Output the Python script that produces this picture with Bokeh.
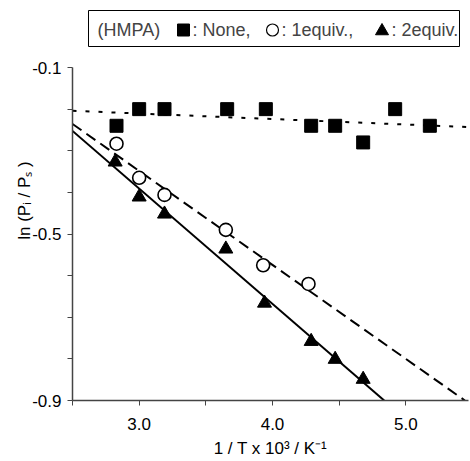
import numpy as np
from bokeh.plotting import figure
from bokeh.models import Label, FixedTicker, PrintfTickFormatter, Range1d, BoxAnnotation
from bokeh.embed import file_html
from bokeh.resources import INLINE

# --- data ---
x_none = [2.83, 3.00, 3.19, 3.66, 3.95, 4.29, 4.47, 4.68, 4.92, 5.18]
y_none = [-0.24, -0.20, -0.20, -0.20, -0.20, -0.24, -0.24, -0.28, -0.20, -0.24]

x_1eq = [2.83, 3.00, 3.19, 3.65, 3.93, 4.27]
y_1eq = [-0.283, -0.365, -0.406, -0.490, -0.575, -0.620]

x_2eq = [2.82, 3.00, 3.19, 3.65, 3.94, 4.29, 4.47, 4.68]
y_2eq = [-0.327, -0.411, -0.452, -0.536, -0.666, -0.758, -0.801, -0.849]

x_ticks = [3.0, 4.0, 5.0]
x_minor = [2.5, 3.5, 4.5]
y_ticks = [-0.1, -0.5, -0.9]
y_minor = [-0.2, -0.3, -0.4, -0.6, -0.7, -0.8]

legend_title = "(HMPA)"
legend_labels = [": None,", ": 1equiv.,", ": 2equiv."]

FONT = "Liberation Sans"
X0, X1 = 2.5, 5.47
Y0, Y1 = -0.9, 0.061
W, H = 470, 461
BL, BR, BT, BB = 72, 2, 0, 61

p = figure(width=W, height=H, output_backend="svg", toolbar_location=None,
           x_range=Range1d(X0, X1), y_range=Range1d(Y0, Y1),
           min_border_left=BL, min_border_right=BR, min_border_top=BT, min_border_bottom=BB)
p.outline_line_color = None
p.xgrid.visible = False
p.ygrid.visible = False
p.background_fill_color = "white"

# helpers: canvas pixel -> data coordinate (for legend layout only)
fw, fh = W - BL - BR, H - BT - BB
def px(x):
    return X0 + (x - BL) / fw * (X1 - X0)
def py(y):
    return Y1 - (y - BT) / fh * (Y1 - Y0)

# fit lines (least squares through each series)
xl = np.array([X0, X1])
for xs, ys, dash in [(x_none, y_none, "4 9"), (x_1eq, y_1eq, "11 6"), (x_2eq, y_2eq, "solid")]:
    k, b = np.polyfit(xs, ys, 1)
    yl = k * xl + b
    if yl[1] < Y0:
        xl2 = np.array([X0, (Y0 - b) / k])
        yl = k * xl2 + b
    else:
        xl2 = xl
    p.line(xl2, yl, line_color="black", line_width=2, line_dash=dash)

p.scatter(x_none, y_none, marker="square", size=13, fill_color="black", line_color="black")
p.scatter(x_1eq, y_1eq, marker="circle", size=13, fill_color="white", line_color="black", line_width=1.6)
p.scatter(x_2eq, y_2eq, marker="triangle", size=14, fill_color="black", line_color="black")

for ax in (p.xaxis[0], p.yaxis[0]):
    ax.axis_line_color = "#444444"
    ax.axis_line_width = 1.5
    ax.major_tick_line_color = "#444444"
    ax.major_tick_line_width = 1
    ax.minor_tick_line_color = None
    ax.major_tick_in = 0
    ax.major_tick_out = 5
    ax.major_label_text_font = FONT
    ax.major_label_text_font_size = "17px"
    ax.major_label_text_color = "black"
    ax.axis_label_text_font = FONT
    ax.axis_label_text_font_size = "17px"
    ax.axis_label_text_font_style = "normal"
    ax.axis_label_text_color = "black"
    ax.formatter = PrintfTickFormatter(format="%.1f")

p.xaxis[0].ticker = FixedTicker(ticks=sorted(x_ticks + x_minor))
p.xaxis[0].major_label_overrides = {t: "" for t in x_minor}
p.yaxis[0].ticker = FixedTicker(ticks=sorted(y_ticks + y_minor))
p.yaxis[0].major_label_overrides = {t: "" for t in y_minor}
p.yaxis[0].bounds = (Y0, -0.1)
p.xaxis[0].axis_label = "1 / T x 10\u00b3 / K\u207b\u00b9"
p.yaxis[0].axis_label = "ln (P\u1d62 / P\u209b )"
p.xaxis[0].major_label_standoff = 12
p.xaxis[0].axis_label_standoff = 6
p.yaxis[0].major_label_standoff = 6
p.yaxis[0].axis_label_standoff = -5

# legend box (built from parts)
box = BoxAnnotation(left=px(88), right=px(459), top=py(10), bottom=py(46),
                    fill_color=None, line_color="black", line_width=1, line_alpha=1,
                    level="underlay")
p.add_layout(box)
yc = py(29.5)
p.add_layout(Label(x=px(97), y=yc, text=legend_title, text_font=FONT,
                   text_font_size="18px", text_baseline="middle"))
p.scatter([px(183)], [yc], marker="square", size=12, fill_color="black", line_color="black")
p.scatter([px(272)], [yc], marker="circle", size=12, fill_color="white", line_color="black", line_width=1.2)
p.scatter([px(381.5)], [py(30.5)], marker="triangle", size=13, fill_color="black", line_color="black")
for lx, lab in zip([192, 281, 391], legend_labels):
    p.add_layout(Label(x=px(lx), y=yc, text=lab, text_font=FONT,
                       text_font_size="18px", text_baseline="middle"))

open("out.html", "w").write(file_html(p, INLINE))
